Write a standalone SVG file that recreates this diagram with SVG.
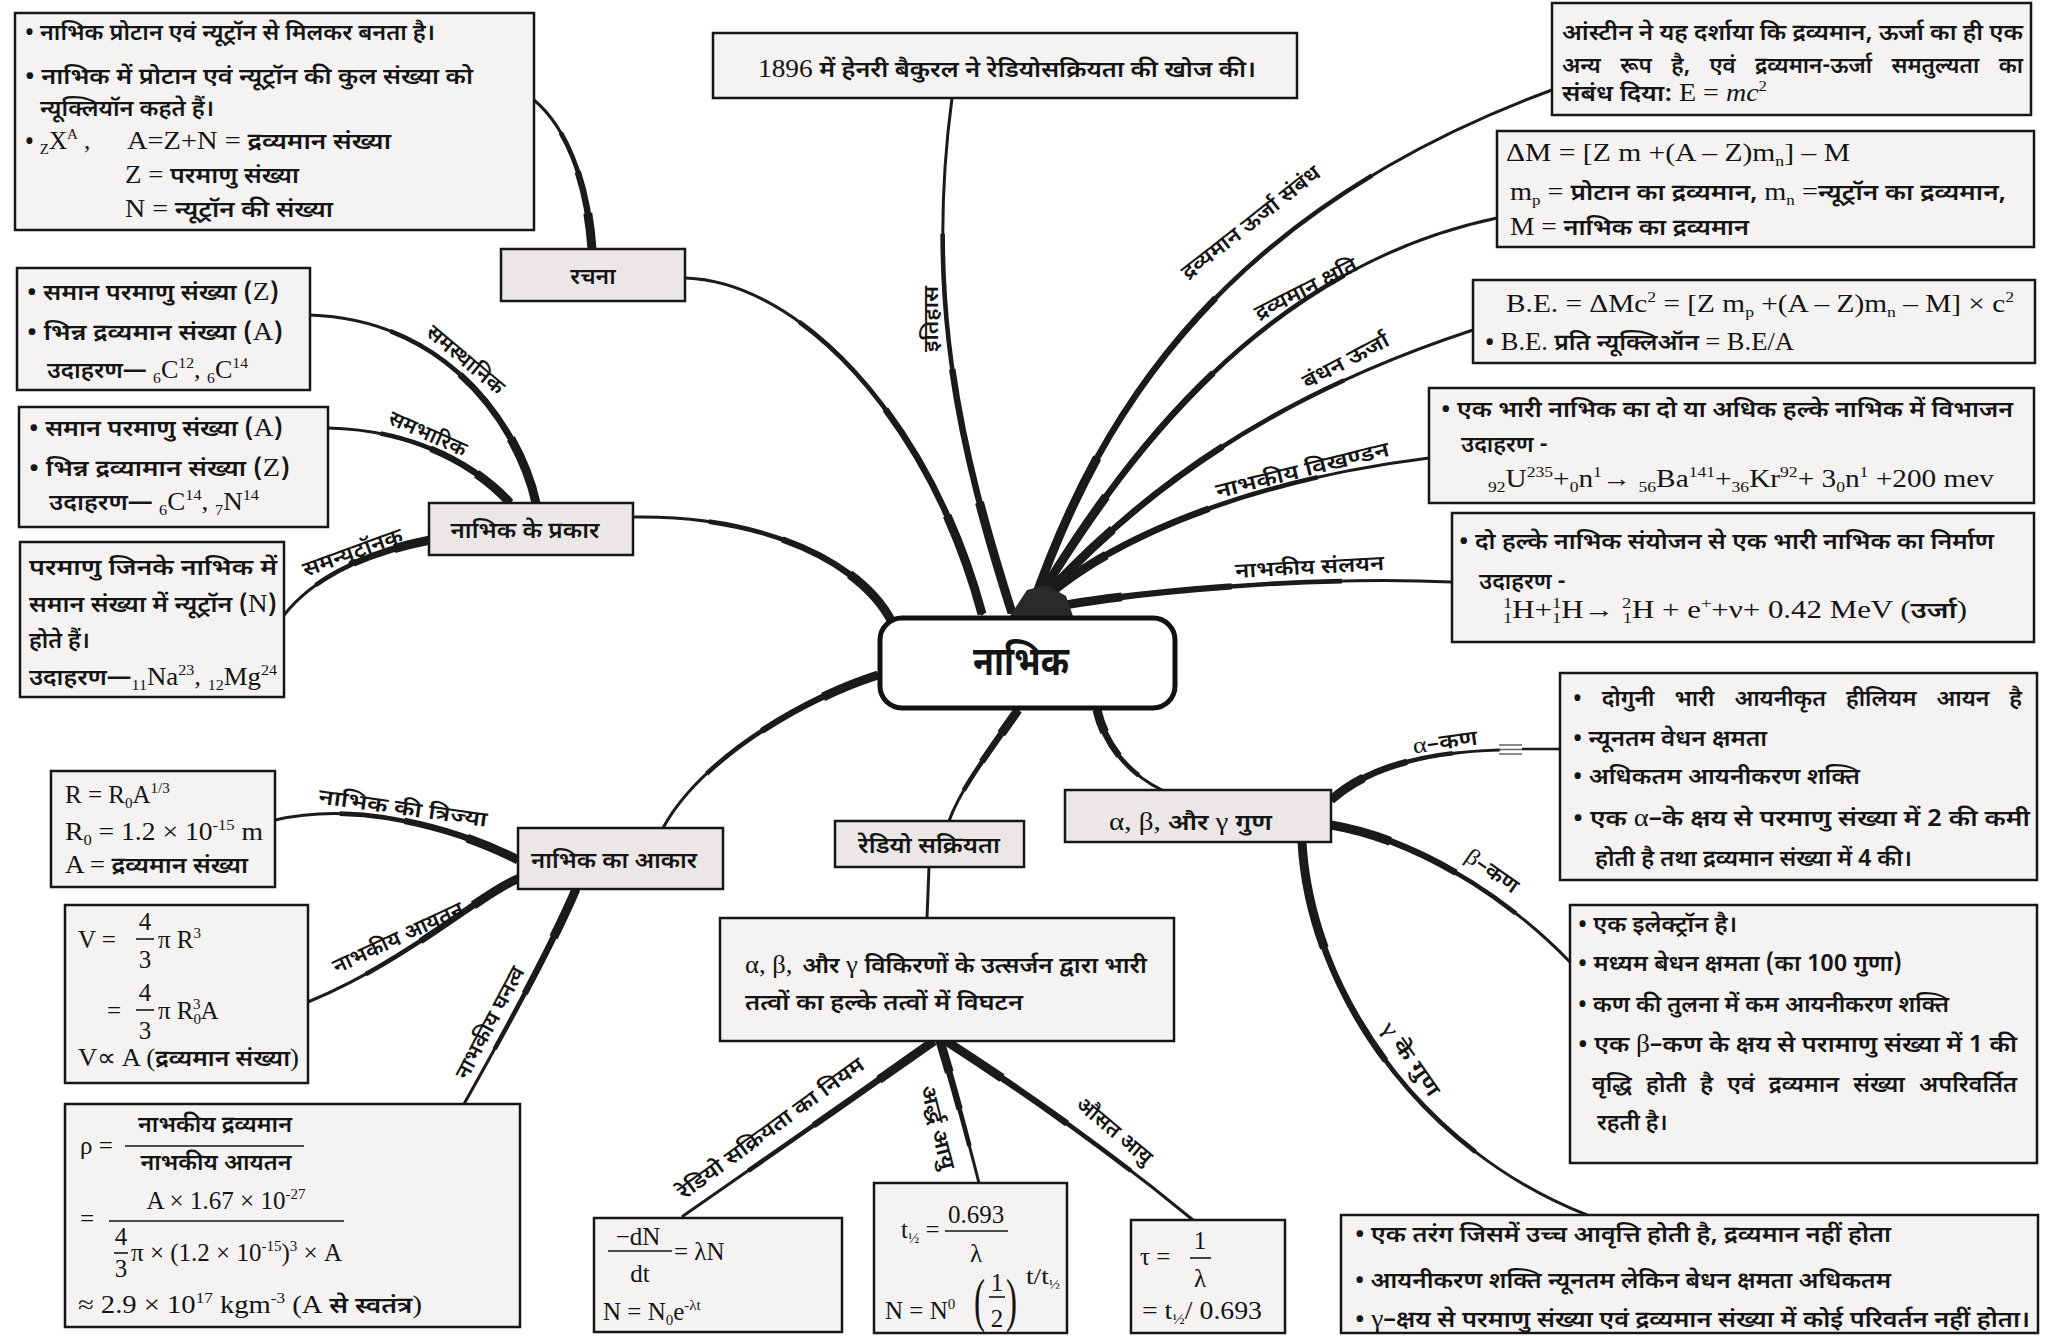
<svg xmlns="http://www.w3.org/2000/svg" width="2051" height="1336" viewBox="0 0 2051 1336">
<defs>
<style>
.bx{fill:#f5f2f2;stroke:#161616;stroke-width:2.5}
.tp{fill:#ebe7e7;stroke:#161616;stroke-width:2.5}
.t{font-family:"Noto Sans Devanagari","Lohit Devanagari","Mukta","Noto Sans","Liberation Sans",sans-serif;font-size:23px;font-weight:600;fill:#141414}
.s{font-family:"Liberation Serif","Times New Roman",serif;font-size:25px;font-weight:400}
.lb{font-size:21px}
.sup{font-size:15px;baseline-shift:10px}
.sub{font-size:15px;baseline-shift:-5px}
.k1,.k2,.k3,.k4{fill:none;stroke:#1b1b1b}
.k1{stroke-width:9;stroke-dasharray:22 300}
.k2{stroke-width:6.5;stroke-dasharray:48 300}
.k3{stroke-width:4.6;stroke-dasharray:74 300}
.k4{stroke-width:3;stroke-linecap:round}
.fr{stroke:#141414;stroke-width:1.6}
</style>
<path id="p-hist" pathLength="100" d="M1012,613 C960,450 925,300 952,98"/>
<path id="p-rachna" pathLength="100" d="M982,614 C930,420 800,282 686,278"/>
<path id="p-prakar" pathLength="100" d="M892,622 C860,560 760,515 633,517"/>
<path id="p-akar" pathLength="100" d="M878,675 C800,700 700,760 663,828"/>
<path id="p-radio" pathLength="100" d="M1018,710 C990,750 960,790 949,821"/>
<path id="p-guna" pathLength="100" d="M1097,710 C1105,745 1130,775 1162,790"/>
<path id="p-ein" pathLength="100" d="M1030,612 C1090,440 1200,220 1552,90"/>
<path id="p-def" pathLength="100" d="M1030,612 C1110,480 1250,270 1497,218"/>
<path id="p-be" pathLength="100" d="M1030,612 C1130,500 1260,400 1473,330"/>
<path id="p-fis" pathLength="100" d="M1030,612 C1100,540 1250,480 1429,458"/>
<path id="p-fus" pathLength="100" d="M1030,612 C1100,595 1300,575 1452,582"/>
<path id="p-comp" pathLength="100" d="M592,249 C588,190 570,130 534,100"/>
<path id="p-iso" pathLength="100" d="M536,503 C520,430 450,320 310,315"/>
<path id="p-isb" pathLength="100" d="M510,503 C480,470 420,430 328,428"/>
<path id="p-ist" pathLength="100" d="M430,540 C380,550 320,570 284,615"/>
<path id="p-rad" pathLength="100" d="M518,860 C460,830 360,800 275,820"/>
<path id="p-vol" pathLength="100" d="M520,878 C485,890 410,960 308,1002"/>
<path id="p-den" pathLength="100" d="M576,889 C550,950 500,1040 464,1104"/>
<path id="p-law" pathLength="100" d="M934,1041 C850,1100 750,1170 683,1216"/>
<path id="p-half" pathLength="100" d="M940,1041 C955,1090 968,1140 979,1183"/>
<path id="p-mean" pathLength="100" d="M946,1041 C1030,1095 1120,1160 1193,1220"/>
<path id="p-alpha" pathLength="100" d="M1331,800 C1370,765 1430,752 1499,750"/>
<path id="p-beta" pathLength="100" d="M1331,825 C1420,840 1510,900 1570,962"/>
<path id="p-gamma" pathLength="100" d="M1302,842 C1310,990 1420,1150 1587,1215"/>
</defs>
<rect width="2051" height="1336" fill="#ffffff"/>

<!-- branches: each curve is stroked in steps, thick at the parent end -->
<g id="connectors">
<use href="#p-hist" class="k1"/><use href="#p-hist" class="k2"/><use href="#p-hist" class="k3"/><use href="#p-hist" class="k4"/>
<use href="#p-rachna" class="k1"/><use href="#p-rachna" class="k2"/><use href="#p-rachna" class="k3"/><use href="#p-rachna" class="k4"/>
<use href="#p-prakar" class="k1"/><use href="#p-prakar" class="k2"/><use href="#p-prakar" class="k3"/><use href="#p-prakar" class="k4"/>
<use href="#p-akar" class="k1"/><use href="#p-akar" class="k2"/><use href="#p-akar" class="k3"/><use href="#p-akar" class="k4"/>
<use href="#p-radio" class="k1"/><use href="#p-radio" class="k2"/><use href="#p-radio" class="k3"/><use href="#p-radio" class="k4"/>
<use href="#p-guna" class="k1"/><use href="#p-guna" class="k2"/><use href="#p-guna" class="k3"/><use href="#p-guna" class="k4"/>
<use href="#p-ein" class="k1"/><use href="#p-ein" class="k2"/><use href="#p-ein" class="k3"/><use href="#p-ein" class="k4"/>
<use href="#p-def" class="k1"/><use href="#p-def" class="k2"/><use href="#p-def" class="k3"/><use href="#p-def" class="k4"/>
<use href="#p-be" class="k1"/><use href="#p-be" class="k2"/><use href="#p-be" class="k3"/><use href="#p-be" class="k4"/>
<use href="#p-fis" class="k1"/><use href="#p-fis" class="k2"/><use href="#p-fis" class="k3"/><use href="#p-fis" class="k4"/>
<use href="#p-fus" class="k1"/><use href="#p-fus" class="k2"/><use href="#p-fus" class="k3"/><use href="#p-fus" class="k4"/>
<use href="#p-comp" class="k1"/><use href="#p-comp" class="k2"/><use href="#p-comp" class="k3"/><use href="#p-comp" class="k4"/>
<use href="#p-iso" class="k1"/><use href="#p-iso" class="k2"/><use href="#p-iso" class="k3"/><use href="#p-iso" class="k4"/>
<use href="#p-isb" class="k1"/><use href="#p-isb" class="k2"/><use href="#p-isb" class="k3"/><use href="#p-isb" class="k4"/>
<use href="#p-ist" class="k1"/><use href="#p-ist" class="k2"/><use href="#p-ist" class="k3"/><use href="#p-ist" class="k4"/>
<use href="#p-rad" class="k1"/><use href="#p-rad" class="k2"/><use href="#p-rad" class="k3"/><use href="#p-rad" class="k4"/>
<use href="#p-vol" class="k1"/><use href="#p-vol" class="k2"/><use href="#p-vol" class="k3"/><use href="#p-vol" class="k4"/>
<use href="#p-den" class="k1"/><use href="#p-den" class="k2"/><use href="#p-den" class="k3"/><use href="#p-den" class="k4"/>
<use href="#p-law" class="k1"/><use href="#p-law" class="k2"/><use href="#p-law" class="k3"/><use href="#p-law" class="k4"/>
<use href="#p-half" class="k1"/><use href="#p-half" class="k2"/><use href="#p-half" class="k3"/><use href="#p-half" class="k4"/>
<use href="#p-mean" class="k1"/><use href="#p-mean" class="k2"/><use href="#p-mean" class="k3"/><use href="#p-mean" class="k4"/>
<use href="#p-alpha" class="k1"/><use href="#p-alpha" class="k2"/><use href="#p-alpha" class="k3"/><use href="#p-alpha" class="k4"/>
<use href="#p-beta" class="k1"/><use href="#p-beta" class="k2"/><use href="#p-beta" class="k3"/><use href="#p-beta" class="k4"/>
<use href="#p-gamma" class="k1"/><use href="#p-gamma" class="k2"/><use href="#p-gamma" class="k3"/><use href="#p-gamma" class="k4"/>
<path d="M929,867 L927,918" fill="none" stroke="#1b1b1b" stroke-width="3"/>
<path d="M1522,749 L1560,749" fill="none" stroke="#1b1b1b" stroke-width="2.5"/>
<path d="M1499,745 H1522 M1499,749.5 H1522 M1499,754 H1522" stroke="#666" stroke-width="1.5"/>
<path d="M1008,619 L1027,590 L1046,585 L1066,596 L1074,619 Z" fill="#2a2a2a"/>
</g>

<g id="edge-labels" class="t lb">
<text transform="translate(938,319) rotate(-90)" text-anchor="middle" textLength="66" lengthAdjust="spacingAndGlyphs">इतिहास</text>
<text transform="translate(1255,228) rotate(-38)" text-anchor="middle" textLength="170" lengthAdjust="spacingAndGlyphs">द्रव्यमान ऊर्जा संबंध</text>
<text transform="translate(1309,295) rotate(-27)" text-anchor="middle" textLength="112" lengthAdjust="spacingAndGlyphs">द्रव्यमान क्षति</text>
<text transform="translate(1349,367) rotate(-28)" text-anchor="middle" textLength="95" lengthAdjust="spacingAndGlyphs">बंधन ऊर्जा</text>
<text transform="translate(1304,477) rotate(-14)" text-anchor="middle" textLength="178" lengthAdjust="spacingAndGlyphs">नाभकीय विखण्डन</text>
<text transform="translate(1310,574) rotate(-3)" text-anchor="middle" textLength="149" lengthAdjust="spacingAndGlyphs">नाभकीय संलयन</text>
<text transform="translate(461,365) rotate(40)" text-anchor="middle" textLength="95" lengthAdjust="spacingAndGlyphs">समस्थानिक</text>
<text transform="translate(425,440) rotate(24)" text-anchor="middle" textLength="83" lengthAdjust="spacingAndGlyphs">समभारिक</text>
<text transform="translate(355,559) rotate(-20)" text-anchor="middle" textLength="105" lengthAdjust="spacingAndGlyphs">समन्यूट्रॉनक</text>
<text transform="translate(402,815) rotate(8)" text-anchor="middle" textLength="170" lengthAdjust="spacingAndGlyphs">नाभिक की त्रिज्या</text>
<text transform="translate(401,944) rotate(-25)" text-anchor="middle" textLength="142" lengthAdjust="spacingAndGlyphs">नाभकीय आयतन</text>
<text transform="translate(496,1026) rotate(-62)" text-anchor="middle" textLength="124" lengthAdjust="spacingAndGlyphs">नाभकीय घनत्व</text>
<text transform="translate(775,1134) rotate(-36)" text-anchor="middle" textLength="225" lengthAdjust="spacingAndGlyphs">रेडियो सक्रियता का नियम</text>
<text transform="translate(931,1129) rotate(76)" text-anchor="middle" textLength="86" lengthAdjust="spacingAndGlyphs">अर्द्ध आयु</text>
<text transform="translate(1110,1136) rotate(40)" text-anchor="middle" textLength="92" lengthAdjust="spacingAndGlyphs">औसत आयु</text>
<text transform="translate(1446,749) rotate(-8)" text-anchor="middle" textLength="65" lengthAdjust="spacingAndGlyphs"><tspan class="s" style="font-size:23px">α</tspan>–कण</text>
<text transform="translate(1488,877) rotate(35)" text-anchor="middle" textLength="60" lengthAdjust="spacingAndGlyphs"><tspan class="s" style="font-size:23px">β</tspan>–कण</text>
<text transform="translate(1405,1063) rotate(55)" text-anchor="middle" textLength="86" lengthAdjust="spacingAndGlyphs"><tspan class="s" style="font-size:23px">γ</tspan> के गुण</text>
</g>

<g id="n-nabhik">
<rect x="880" y="618" width="295" height="90" rx="22" fill="#ffffff" stroke="#111" stroke-width="5"/>
<text class="t" x="1021" y="675" text-anchor="middle" style="font-size:40px;font-weight:700" textLength="96" lengthAdjust="spacingAndGlyphs">नाभिक</text>
</g>

<g id="n-itihas">
<rect class="bx" x="713" y="33" width="584" height="65"/>
<text class="t" x="758" y="77" textLength="498" lengthAdjust="spacingAndGlyphs"><tspan class="s">1896</tspan> में हेनरी बैकुरल ने रेडियोसक्रियता की खोज की।</text>
</g>

<g id="n-rachna">
<rect class="tp" x="501" y="249" width="184" height="52"/>
<text class="t" x="593" y="284" text-anchor="middle">रचना</text>
</g>

<g id="n-rachna-info">
<rect class="bx" x="15" y="13" width="519" height="217"/>
<text class="t" x="25" y="40" textLength="410" lengthAdjust="spacingAndGlyphs">• नाभिक प्रोटान एवं न्यूट्रॉन से मिलकर बनता है।</text>
<text class="t" x="25" y="84" textLength="448" lengthAdjust="spacingAndGlyphs">• नाभिक में प्रोटान एवं न्यूट्रॉन की कुल संख्या को</text>
<text class="t" x="40" y="116" textLength="174" lengthAdjust="spacingAndGlyphs">न्यूक्लियॉन कहते हैं।</text>
<text class="t" x="25" y="149">• <tspan class="s"><tspan class="sub">Z</tspan>X<tspan class="sup">A</tspan> ,</tspan></text>
<text class="t" x="127" y="149" textLength="264" lengthAdjust="spacingAndGlyphs"><tspan class="s">A=Z+N =</tspan> द्रव्यमान संख्या</text>
<text class="t" x="125" y="183" textLength="174" lengthAdjust="spacingAndGlyphs"><tspan class="s">Z =</tspan> परमाणु संख्या</text>
<text class="t" x="125" y="217" textLength="208" lengthAdjust="spacingAndGlyphs"><tspan class="s">N =</tspan> न्यूट्रॉन की संख्या</text>
</g>

<g id="n-prakar">
<rect class="tp" x="429" y="503" width="204" height="52"/>
<text class="t" x="525" y="538" text-anchor="middle" textLength="149" lengthAdjust="spacingAndGlyphs">नाभिक के प्रकार</text>
</g>

<g id="n-isotope">
<rect class="bx" x="17" y="268" width="293" height="122"/>
<text class="t" x="27" y="300" textLength="252" lengthAdjust="spacingAndGlyphs">• समान परमाणु संख्या (<tspan class="s">Z</tspan>)</text>
<text class="t" x="27" y="340" textLength="256" lengthAdjust="spacingAndGlyphs">• भिन्न द्रव्यमान संख्या (<tspan class="s">A</tspan>)</text>
<text class="t" x="47" y="378" textLength="201" lengthAdjust="spacingAndGlyphs">उदाहरण— <tspan class="s"><tspan class="sub">6</tspan>C<tspan class="sup">12</tspan>, <tspan class="sub">6</tspan>C<tspan class="sup">14</tspan></tspan></text>
</g>

<g id="n-isobar">
<rect class="bx" x="19" y="407" width="309" height="120"/>
<text class="t" x="29" y="436" textLength="254" lengthAdjust="spacingAndGlyphs">• समान परमाणु संख्या (<tspan class="s">A</tspan>)</text>
<text class="t" x="29" y="476" textLength="261" lengthAdjust="spacingAndGlyphs">• भिन्न द्रव्यामान संख्या (<tspan class="s">Z</tspan>)</text>
<text class="t" x="49" y="510" textLength="210" lengthAdjust="spacingAndGlyphs">उदाहरण— <tspan class="s"><tspan class="sub">6</tspan>C<tspan class="sup">14</tspan>, <tspan class="sub">7</tspan>N<tspan class="sup">14</tspan></tspan></text>
</g>

<g id="n-isotone">
<rect class="bx" x="20" y="542" width="264" height="155"/>
<text class="t" x="29" y="575" textLength="248" lengthAdjust="spacingAndGlyphs">परमाणु जिनके नाभिक में</text>
<text class="t" x="29" y="612" textLength="248" lengthAdjust="spacingAndGlyphs">समान संख्या में न्यूट्रॉन (<tspan class="s">N</tspan>)</text>
<text class="t" x="29" y="648">होते हैं।</text>
<text class="t" x="29" y="685" textLength="248" lengthAdjust="spacingAndGlyphs">उदाहरण—<tspan class="s"><tspan class="sub">11</tspan>Na<tspan class="sup">23</tspan>, <tspan class="sub">12</tspan>Mg<tspan class="sup">24</tspan></tspan></text>
</g>

<g id="n-akar">
<rect class="tp" x="518" y="828" width="205" height="61"/>
<text class="t" x="614" y="868" text-anchor="middle" textLength="166" lengthAdjust="spacingAndGlyphs">नाभिक का आकार</text>
</g>

<g id="n-radius">
<rect class="bx" x="51" y="771" width="224" height="116"/>
<text class="t s" x="65" y="803">R = R<tspan class="sub">0</tspan>A<tspan class="sup">1/3</tspan></text>
<text class="t s" x="65" y="840" textLength="198" lengthAdjust="spacingAndGlyphs">R<tspan class="sub">0</tspan> = 1.2 × 10<tspan class="sup">-15</tspan> m</text>
<text class="t" x="65" y="873" textLength="183" lengthAdjust="spacingAndGlyphs"><tspan class="s">A =</tspan> द्रव्यमान संख्या</text>
</g>

<g id="n-volume">
<rect class="bx" x="65" y="905" width="243" height="178"/>
<text class="t s" x="78" y="948">V =</text>
<text class="t s" x="145" y="930" text-anchor="middle">4</text>
<line class="fr" x1="136" y1="939" x2="154" y2="939"/>
<text class="t s" x="145" y="968" text-anchor="middle">3</text>
<text class="t s" x="158" y="948">π R<tspan class="sup">3</tspan></text>
<text class="t s" x="107" y="1019">=</text>
<text class="t s" x="145" y="1001" text-anchor="middle">4</text>
<line class="fr" x1="136" y1="1010" x2="154" y2="1010"/>
<text class="t s" x="145" y="1039" text-anchor="middle">3</text>
<text class="t s" x="158" y="1019">π R<tspan class="sub">0</tspan><tspan class="sup" dx="-8">3</tspan>A</text>
<text class="t" x="78" y="1066" textLength="221" lengthAdjust="spacingAndGlyphs"><tspan class="s">V∝ A (</tspan>द्रव्यमान संख्या<tspan class="s">)</tspan></text>
</g>

<g id="n-density">
<rect class="bx" x="65" y="1104" width="455" height="223"/>
<text class="t s" x="80" y="1154">ρ =</text>
<text class="t" x="215" y="1132" text-anchor="middle" textLength="154" lengthAdjust="spacingAndGlyphs">नाभकीय द्रव्यमान</text>
<line class="fr" x1="125" y1="1146" x2="304" y2="1146"/>
<text class="t" x="216" y="1170" text-anchor="middle" textLength="151" lengthAdjust="spacingAndGlyphs">नाभकीय आयतन</text>
<text class="t s" x="80" y="1227">=</text>
<text class="t s" x="226" y="1209" text-anchor="middle" textLength="159" lengthAdjust="spacingAndGlyphs">A × 1.67 × 10<tspan class="sup">-27</tspan></text>
<line class="fr" x1="109" y1="1221" x2="344" y2="1221"/>
<text class="t s" x="121" y="1245" text-anchor="middle">4</text>
<line class="fr" x1="114" y1="1253" x2="128" y2="1253"/>
<text class="t s" x="121" y="1277" text-anchor="middle">3</text>
<text class="t s" x="131" y="1261" textLength="211" lengthAdjust="spacingAndGlyphs">π × (1.2 × 10<tspan class="sup">-15</tspan>)<tspan class="sup">3</tspan> × A</text>
<text class="t" x="78" y="1313" textLength="344" lengthAdjust="spacingAndGlyphs"><tspan class="s">≈ 2.9 × 10<tspan class="sup">17</tspan> kgm<tspan class="sup">-3</tspan>  (A</tspan> से स्वतंत्र<tspan class="s">)</tspan></text>
</g>

<g id="n-radio">
<rect class="tp" x="835" y="821" width="189" height="46"/>
<text class="t" x="929" y="853" text-anchor="middle" textLength="142" lengthAdjust="spacingAndGlyphs">रेडियो सक्रियता</text>
</g>

<g id="n-decay">
<rect class="bx" x="720" y="918" width="454" height="123"/>
<text class="t" x="745" y="973" textLength="402" lengthAdjust="spacingAndGlyphs"><tspan class="s">α, β, </tspan><tspan dx="3">और </tspan><tspan class="s">γ </tspan>विकिरणों के उत्सर्जन द्वारा भारी</text>
<text class="t" x="745" y="1010" textLength="278" lengthAdjust="spacingAndGlyphs">तत्वों का हल्के तत्वों में विघटन</text>
</g>

<g id="n-law">
<rect class="bx" x="594" y="1218" width="248" height="114"/>
<text class="t s" x="638" y="1245" text-anchor="middle">−dN</text>
<line class="fr" x1="608" y1="1251" x2="672" y2="1251"/>
<text class="t s" x="640" y="1282" text-anchor="middle">dt</text>
<text class="t s" x="674" y="1260">= λN</text>
<text class="t s" x="603" y="1320">N = N<tspan class="sub">0</tspan>e<tspan class="sup">-λt</tspan></text>
</g>

<g id="n-half">
<rect class="bx" x="874" y="1183" width="193" height="150"/>
<text class="t s" x="901" y="1238">t<tspan class="sub">½</tspan> =</text>
<text class="t s" x="976" y="1223" text-anchor="middle">0.693</text>
<line class="fr" x1="945" y1="1231" x2="1008" y2="1231"/>
<text class="t s" x="976" y="1262" text-anchor="middle">λ</text>
<text class="t s" x="885" y="1319">N = N<tspan class="sup">0</tspan></text>
<text class="t s" x="974" y="1320" style="font-size:60px" textLength="11" lengthAdjust="spacingAndGlyphs">(</text>
<text class="t s" x="997" y="1291" text-anchor="middle">1</text>
<line class="fr" x1="989" y1="1297" x2="1005" y2="1297"/>
<text class="t s" x="997" y="1327" text-anchor="middle">2</text>
<text class="t s" x="1006" y="1320" style="font-size:60px" textLength="11" lengthAdjust="spacingAndGlyphs">)</text>
<text class="t s" x="1026" y="1284" style="font-size:24px" textLength="34" lengthAdjust="spacingAndGlyphs">t/t<tspan class="sub" style="font-size:13px">½</tspan></text>
</g>

<g id="n-mean">
<rect class="bx" x="1131" y="1220" width="154" height="113"/>
<text class="t s" x="1140" y="1265">τ =</text>
<text class="t s" x="1200" y="1249" text-anchor="middle">1</text>
<line class="fr" x1="1190" y1="1258" x2="1211" y2="1258"/>
<text class="t s" x="1200" y="1287" text-anchor="middle">λ</text>
<text class="t s" x="1142" y="1319" textLength="120" lengthAdjust="spacingAndGlyphs">= t<tspan class="sub">½</tspan>/ 0.693</text>
</g>

<g id="n-guna">
<rect class="tp" x="1065" y="790" width="266" height="52"/>
<text class="t" x="1109" y="830" textLength="163" lengthAdjust="spacingAndGlyphs"><tspan class="s">α, β,</tspan> और <tspan class="s">γ</tspan> गुण</text>
</g>

<g id="n-alpha">
<rect class="bx" x="1560" y="673" width="477" height="207"/>
<text class="t" x="1573" y="706" textLength="449" lengthAdjust="spacingAndGlyphs" style="word-spacing:14px">• दोगुनी भारी आयनीकृत हीलियम आयन है</text>
<text class="t" x="1573" y="746" textLength="194" lengthAdjust="spacingAndGlyphs">• न्यूनतम वेधन क्षमता</text>
<text class="t" x="1573" y="784" textLength="287" lengthAdjust="spacingAndGlyphs">• अधिकतम  आयनीकरण शक्ति</text>
<text class="t" x="1573" y="826" textLength="457" lengthAdjust="spacingAndGlyphs">• एक <tspan class="s">α</tspan>–के क्षय से परमाणु संख्या में 2 की कमी</text>
<text class="t" x="1595" y="866" textLength="317" lengthAdjust="spacingAndGlyphs">होती है तथा द्रव्यमान संख्या में 4 की।</text>
</g>

<g id="n-beta">
<rect class="bx" x="1570" y="905" width="467" height="258"/>
<text class="t" x="1578" y="932" textLength="159" lengthAdjust="spacingAndGlyphs">• एक इलेक्ट्रॉन है।</text>
<text class="t" x="1578" y="971" textLength="324" lengthAdjust="spacingAndGlyphs">• मध्यम बेधन क्षमता (का 100 गुणा)</text>
<text class="t" x="1578" y="1012" textLength="371" lengthAdjust="spacingAndGlyphs">• कण की तुलना में कम आयनीकरण शक्ति</text>
<text class="t" x="1578" y="1052" textLength="439" lengthAdjust="spacingAndGlyphs">• एक <tspan class="s">β</tspan>–कण के क्षय से परामाणु संख्या में 1 की</text>
<text class="t" x="1592" y="1092" textLength="425" lengthAdjust="spacingAndGlyphs" style="word-spacing:8px">वृद्धि होती है एवं द्रव्यमान संख्या अपरिवर्तित</text>
<text class="t" x="1597" y="1130">रहती है।</text>
</g>

<g id="n-gamma">
<rect class="bx" x="1341" y="1215" width="697" height="118"/>
<text class="t" x="1355" y="1242" textLength="536" lengthAdjust="spacingAndGlyphs">• एक तरंग जिसमें उच्च आवृत्ति होती है, द्रव्यमान नहीं होता</text>
<text class="t" x="1355" y="1288" textLength="536" lengthAdjust="spacingAndGlyphs">• आयनीकरण शक्ति न्यूनतम लेकिन बेधन क्षमता अधिकतम</text>
<text class="t" x="1355" y="1327" textLength="675" lengthAdjust="spacingAndGlyphs">• <tspan class="s">γ</tspan>–क्षय से परमाणु संख्या एवं द्रव्यमान संख्या में कोई परिवर्तन नहीं होता।</text>
</g>

<g id="n-einstein">
<rect class="bx" x="1552" y="3" width="479" height="112"/>
<text class="t" x="1562" y="40" textLength="461" lengthAdjust="spacingAndGlyphs">आंस्टीन ने यह दर्शाया कि द्रव्यमान, ऊर्जा का ही एक</text>
<text class="t" x="1562" y="73" textLength="461" lengthAdjust="spacingAndGlyphs" style="word-spacing:14px">अन्य रूप है, एवं द्रव्यमान-ऊर्जा समतुल्यता का</text>
<text class="t" x="1562" y="101" textLength="205" lengthAdjust="spacingAndGlyphs">संबंध दिया: <tspan class="s">E = <tspan style="font-style:italic">mc</tspan><tspan class="sup">2</tspan></tspan></text>
</g>

<g id="n-defect">
<rect class="bx" x="1497" y="131" width="537" height="116"/>
<text class="t s" x="1506" y="161" textLength="344" lengthAdjust="spacingAndGlyphs">ΔM = [Z m  +(A – Z)m<tspan class="sub">n</tspan>] – M</text>
<text class="t" x="1510" y="200" textLength="496" lengthAdjust="spacingAndGlyphs"><tspan class="s">m<tspan class="sub">p</tspan> =</tspan> प्रोटान का द्रव्यमान, <tspan class="s">m<tspan class="sub">n</tspan> =</tspan>न्यूट्रॉन का द्रव्यमान,</text>
<text class="t" x="1510" y="235" textLength="239" lengthAdjust="spacingAndGlyphs"><tspan class="s">M =</tspan> नाभिक का द्रव्यमान</text>
</g>

<g id="n-be">
<rect class="bx" x="1473" y="280" width="562" height="83"/>
<text class="t s" x="1506" y="312" textLength="508" lengthAdjust="spacingAndGlyphs">B.E. = ΔMc<tspan class="sup">2</tspan> = [Z m<tspan class="sub">p</tspan> +(A – Z)m<tspan class="sub">n</tspan> – M] ×  c<tspan class="sup">2</tspan></text>
<text class="t" x="1485" y="350" textLength="309" lengthAdjust="spacingAndGlyphs">• <tspan class="s">B.E.</tspan> प्रति न्यूक्लिऑन <tspan class="s">= B.E/A</tspan></text>
</g>

<g id="n-fission">
<rect class="bx" x="1429" y="388" width="605" height="115"/>
<text class="t" x="1441" y="417" textLength="572" lengthAdjust="spacingAndGlyphs">• एक भारी नाभिक का दो या अधिक हल्के नाभिक में विभाजन</text>
<text class="t" x="1461" y="452">उदाहरण -</text>
<text class="t s" x="1488" y="487" textLength="506" lengthAdjust="spacingAndGlyphs"><tspan class="sub">92</tspan>U<tspan class="sup">235</tspan>+<tspan class="sub">0</tspan>n<tspan class="sup">1</tspan>→ <tspan class="sub">56</tspan>Ba<tspan class="sup">141</tspan>+<tspan class="sub">36</tspan>Kr<tspan class="sup">92</tspan>+ 3<tspan class="sub">0</tspan>n<tspan class="sup">1</tspan> +200 mev</text>
</g>

<g id="n-fusion">
<rect class="bx" x="1452" y="513" width="582" height="129"/>
<text class="t" x="1459" y="549" textLength="535" lengthAdjust="spacingAndGlyphs">• दो हल्के नाभिक संयोजन से एक भारी नाभिक का निर्माण</text>
<text class="t" x="1479" y="589">उदाहरण -</text>
<text class="t s" x="1503" y="618" textLength="464" lengthAdjust="spacingAndGlyphs"><tspan class="sup">1</tspan><tspan class="sub" dx="-7">1</tspan>H+<tspan class="sup">1</tspan><tspan class="sub" dx="-7">1</tspan>H→ <tspan class="sup">2</tspan><tspan class="sub" dx="-7">1</tspan>H + e<tspan class="sup">+</tspan>+ν+ 0.42 MeV (<tspan class="t">उर्जा</tspan>)</text>
</g>
</svg>
